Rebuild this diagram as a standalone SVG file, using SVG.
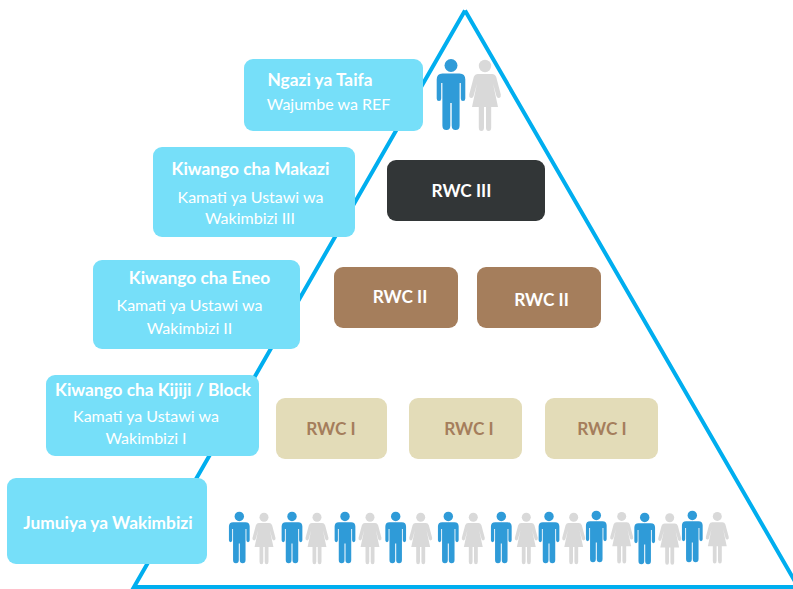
<svg xmlns="http://www.w3.org/2000/svg" xmlns:xlink="http://www.w3.org/1999/xlink" width="793" height="589" viewBox="0 0 793 589">
<style>
text{font-family:"Lato","Open Sans","Liberation Sans",sans-serif;text-anchor:middle}
.b{fill:#76dff9}
.t{fill:#fff;font-weight:700;font-size:17.300px}
.s{fill:#fff;font-size:16px}
.r{font-weight:700;font-size:17.300px}
.m{fill:#2f9bd8}
.w{fill:#d9d9d9}
</style>
<defs>
<g id="man"><circle cx="0" cy="6.5" r="6.5"/><path d="M-8.5 14.5H8.5Q14.3 14.5 14.3 20.5V39.5Q14.3 42 12 42Q9.8 42 9.8 39.5V24H8.6V66.5Q8.6 71 4.6 71Q0.7 71 0.7 66.5V44H-0.7V66.5Q-0.7 71 -4.6 71Q-8.6 71 -8.6 66.5V24H-9.8V39.5Q-9.8 42 -12 42Q-14.3 42 -14.3 39.5V20.5Q-14.3 14.5 -8.5 14.5Z"/></g>
<g id="woman"><circle cx="0" cy="6.5" r="6.2"/><path d="M-7 14.5H7Q10 14.5 11.2 17.5L15.8 35Q16.3 37.8 14.2 38.4Q12.2 38.9 11.4 36.6L8 24L13 47.5H6.2V68Q6.2 71.5 3.6 71.5Q1 71.5 1 68V47.5H-1V68Q-1 71.5 -3.6 71.5Q-6.2 71.5 -6.2 68V47.5H-13L-8 24L-11.4 36.6Q-12.2 38.9 -14.2 38.4Q-16.3 37.8 -15.8 35L-11.2 17.5Q-10 14.5 -7 14.5Z"/></g>
</defs>
<rect width="793" height="589" fill="#fff"/>
<g id="connectors"><path d="M465 10.500L134 587H800M465 10.500L800 590" fill="none" stroke="#00aeef" stroke-width="4" stroke-linejoin="miter"/></g>
<g id="node-ngazi"><rect class="b" x="244" y="59" width="179" height="72" rx="9"/><text class="t" x="320" y="86">Ngazi ya Taifa</text><text class="s" x="328.500" y="110">Wajumbe wa REF</text></g>
<g id="node-makazi"><rect class="b" x="153" y="147" width="202" height="90" rx="9"/><text class="t" x="250.500" y="175">Kiwango cha Makazi</text><text class="s" x="250.500" y="203">Kamati ya Ustawi wa</text><text class="s" x="250" y="224">Wakimbizi III</text></g>
<g id="node-eneo"><rect class="b" x="93" y="260" width="207" height="89" rx="9"/><text class="t" x="199.500" y="284">Kiwango cha Eneo</text><text class="s" x="189.500" y="311">Kamati ya Ustawi wa</text><text class="s" x="189.500" y="334">Wakimbizi II</text></g>
<g id="node-kijiji"><rect class="b" x="46" y="375" width="213" height="81" rx="9"/><text class="t" x="153" y="396">Kiwango cha Kijiji / Block</text><text class="s" x="146" y="422">Kamati ya Ustawi wa</text><text class="s" x="146" y="444">Wakimbizi I</text></g>
<g id="node-jumuiya"><rect class="b" x="7" y="478" width="200" height="86" rx="9"/><text class="t" x="108" y="529">Jumuiya ya Wakimbizi</text></g>
<g id="node-rwc3"><rect x="387" y="160" width="158" height="61" rx="9" fill="#323637"/><text class="r" x="461.500" y="197" fill="#fff">RWC III</text></g>
<g id="node-rwc2a"><rect x="334" y="267" width="124" height="61" rx="9" fill="#a57e5c"/><text class="r" x="400" y="303" fill="#fff">RWC II</text></g>
<g id="node-rwc2b"><rect x="477" y="267" width="124" height="61" rx="9" fill="#a57e5c"/><text class="r" x="541.500" y="306" fill="#fff">RWC II</text></g>
<g id="node-rwc1a"><rect x="276" y="398" width="111" height="61" rx="9" fill="#e3dcb8"/><text class="r" x="331" y="434.500" fill="#a57e5c">RWC I</text></g>
<g id="node-rwc1b"><rect x="409" y="398" width="113" height="61" rx="9" fill="#e3dcb8"/><text class="r" x="469" y="434.500" fill="#a57e5c">RWC I</text></g>
<g id="node-rwc1c"><rect x="545" y="398" width="113" height="61" rx="9" fill="#e3dcb8"/><text class="r" x="602" y="434.500" fill="#a57e5c">RWC I</text></g>
<g id="people-top"><use href="#man" class="m" transform="translate(451 59)"/><use href="#woman" class="w" transform="translate(485 59.500)"/></g>
<g id="people-bottom">
<use href="#man" class="m" transform="translate(239.300 511.700) scale(.725)"/>
<use href="#woman" class="w" transform="translate(264 512.500) scale(.725)"/>
<use href="#man" class="m" transform="translate(292 511.700) scale(.725)"/>
<use href="#woman" class="w" transform="translate(317 512.500) scale(.725)"/>
<use href="#man" class="m" transform="translate(345 511.700) scale(.725)"/>
<use href="#woman" class="w" transform="translate(370 512.500) scale(.725)"/>
<use href="#man" class="m" transform="translate(395.700 511.700) scale(.725)"/>
<use href="#woman" class="w" transform="translate(420.700 512.500) scale(.725)"/>
<use href="#man" class="m" transform="translate(448.300 511.700) scale(.725)"/>
<use href="#woman" class="w" transform="translate(473.300 512.500) scale(.725)"/>
<use href="#man" class="m" transform="translate(501.300 511.700) scale(.725)"/>
<use href="#woman" class="w" transform="translate(526.300 512.500) scale(.725)"/>
<use href="#man" class="m" transform="translate(549 511.700) scale(.725)"/>
<use href="#woman" class="w" transform="translate(573.700 512.500) scale(.725)"/>
<use href="#man" class="m" transform="translate(596.300 510.700) scale(.725)"/>
<use href="#woman" class="w" transform="translate(621.700 511.700) scale(.725)"/>
<use href="#man" class="m" transform="translate(644.700 512.700) scale(.725)"/>
<use href="#woman" class="w" transform="translate(669.700 513) scale(.725)"/>
<use href="#man" class="m" transform="translate(692.300 510.700) scale(.725)"/>
<use href="#woman" class="w" transform="translate(717.300 511.700) scale(.725)"/>
</g>
</svg>
